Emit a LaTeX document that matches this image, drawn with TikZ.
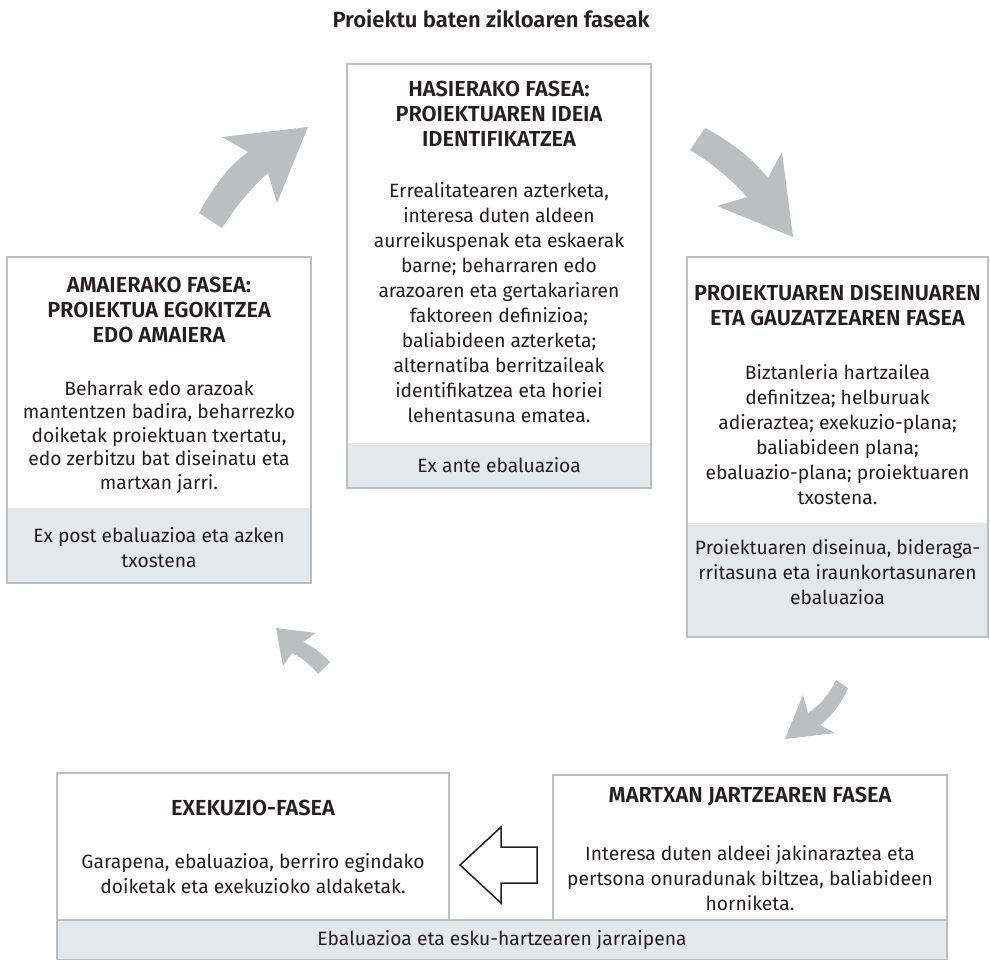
\documentclass[tikz,border=0pt]{standalone}
\usepackage{fontspec}
\setmainfont{Fira Sans}
\newcommand\bodyfont{\normalfont}
\IfFontExistsTF{Fira Sans SemiBold}{\newfontfamily\headfont{Fira Sans SemiBold}}{\newcommand\headfont{\normalfont\bfseries}}
\newlength\calw
\settowidth\calw{\bodyfont\fontsize{10}{12}\selectfont Errealitatearen azterketa,}
\pgfmathsetmacro\bsz{10*220/\calw}
\settowidth\calw{\headfont\fontsize{10}{12}\selectfont PROIEKTUAREN DISEINUAREN}
\pgfmathsetmacro\hsz{10*287/\calw}
\settowidth\calw{\headfont\fontsize{10}{12}\selectfont Proiektu baten zikloaren faseak}
\pgfmathsetmacro\tsz{10*317/\calw}
\definecolor{bordergray}{HTML}{BCBEC0}
\definecolor{panelgray}{HTML}{E6E7E8}
\definecolor{arrowgray}{HTML}{BCBEC0}
\definecolor{ink}{HTML}{231F20}
\begin{document}
\begin{tikzpicture}[x=1pt,y=-1pt,
  box/.style={draw=bordergray, line width=2pt, fill=white, inner sep=0pt},
  panel/.style={fill=panelgray, inner sep=0pt},
  head/.style={font=\headfont\fontsize{\hsz}{25}\selectfont, text=ink, align=center, inner sep=0pt},
  body/.style={font=\bodyfont\fontsize{\bsz}{25}\selectfont, text=ink, align=center, inner sep=0pt},
  curvedarrow/.style={fill=arrowgray, draw=none}
]
\useasboundingbox (0,0) rectangle (990,959);
\fill[white] (0,0) rectangle (990,959);

\node[font=\headfont\fontsize{\tsz}{20}\selectfont, text=ink] (title) at (491,19) {Proiektu baten zikloaren faseak};

% top box
\node[box, minimum width=304pt, minimum height=424pt] (topbox) at (499,276) {};
\node[panel, minimum width=302pt, minimum height=44pt] (toppanel) at (499,465) {};
\node[head] (tophead) at (499,114) {HASIERAKO FASEA:\\PROIEKTUAREN IDEIA\\IDENTIFIKATZEA};
\node[body] (topbody) at (499,302.5) {Errealitatearen azterketa,\\interesa duten aldeen\\aurreikuspenak eta eskaerak\\barne; beharraren edo\\arazoaren eta gertakariaren\\faktoreen definizioa;\\baliabideen azterketa;\\alternatiba berritzaileak\\identifikatzea eta horiei\\lehentasuna ematea.};
\node[body] (topeval) at (499,465) {Ex ante ebaluazioa};

% left box
\node[box, minimum width=304pt, minimum height=326pt] (leftbox) at (159,420) {};
\node[panel, minimum width=302pt, minimum height=74pt] (leftpanel) at (159,545) {};
\node[head] (lefthead) at (159,310) {AMAIERAKO FASEA:\\PROIEKTUA EGOKITZEA\\EDO AMAIERA};
\node[body, font=\bodyfont\fontsize{\bsz}{23.5}\selectfont] (leftbody) at (159,437) {Beharrak edo arazoak\\mantentzen badira, beharrezko\\doiketak proiektuan txertatu,\\edo zerbitzu bat diseinatu eta\\martxan jarri.};
\node[body] (lefteval) at (159,547.5) {Ex post ebaluazioa eta azken\\txostena};

% right box
\node[box, minimum width=301pt, minimum height=380pt] (rightbox) at (837.5,447) {};
\node[panel, minimum width=299pt, minimum height=113pt] (rightpanel) at (837.5,579.5) {};
\node[head] (righthead) at (837.5,305) {PROIEKTUAREN DISEINUAREN\\ETA GAUZATZEAREN FASEA};
\node[body] (rightbody) at (837.5,434.5) {Biztanleria hartzailea\\definitzea; helburuak\\adieraztea; exekuzio-plana;\\baliabideen plana;\\ebaluazio-plana; proiektuaren\\txostena.};
\node[body] (righteval) at (837.5,572) {Proiektuaren diseinua, bideraga-\\rritasuna eta iraunkortasunaren\\ebaluazioa};

% bottom panel
\node[box, fill=panelgray, minimum width=890pt, minimum height=40pt] (bottompanel) at (502,940) {};
\node[body] (bottomeval) at (502,940) {Ebaluazioa eta esku-hartzearen jarraipena};

% bottom left box
\node[box, minimum width=392pt, minimum height=147pt] (exebox) at (253,846.5) {};
\node[head] (exehead) at (253,808) {EXEKUZIO-FASEA};
\node[body] (exebody) at (253,874) {Garapena, ebaluazioa, berriro egindako\\doiketak eta exekuzioko aldaketak.};

% bottom right box
\node[box, minimum width=394pt, minimum height=145pt] (marbox) at (750,847.5) {};
\node[head] (marhead) at (750,797) {MARTXAN JARTZEAREN FASEA};
\node[body] (marbody) at (750,878) {Interesa duten aldeei jakinaraztea eta\\pertsona onuradunak biltzea, baliabideen\\horniketa.};

% hollow arrow between bottom boxes
\draw[line width=1.5pt, fill=white, draw=ink, line join=miter]
  (460,865) -- (501,827) -- (501,847) -- (537,847) -- (537,883) -- (501,883) -- (501,903) -- cycle;

% curved arrows
% left -> top
\fill[curvedarrow] (199,213) .. controls (213,188) and (228,166) .. (248,152)
  -- (222,137) -- (308,127) -- (277,203) -- (268,173)
  .. controls (252,187) and (236,206) .. (222,228) -- cycle;
% top -> right
\fill[curvedarrow] (705,128) .. controls (730,141) and (752,158) .. (768,178)
  -- (782,152) -- (793,237) -- (717,206) -- (747,197)
  .. controls (732,180) and (712,163) .. (690,150) -- cycle;
% right -> bottom right
\fill[curvedarrow] (848,688) .. controls (842,702) and (832,716) .. (820,725)
  -- (835,733) -- (785,739) -- (803,695) -- (808,713)
  .. controls (820,705) and (830,694) .. (836,680) -- cycle;
% bottom left -> left
\fill[curvedarrow] (330,662) .. controls (320,652) and (312,646) .. (303,642)
  -- (316,633) -- (276,628) -- (283,666) -- (292,653)
  .. controls (302,658) and (311,665) .. (318,674) -- cycle;
\end{tikzpicture}
\end{document}
